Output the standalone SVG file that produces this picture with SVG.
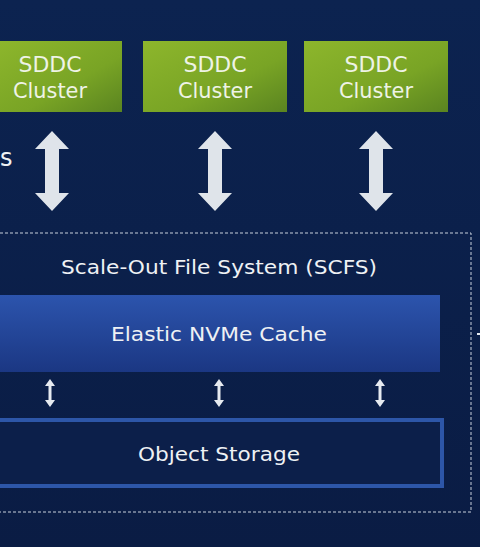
<svg xmlns="http://www.w3.org/2000/svg" width="480" height="547" viewBox="0 0 480 547">
<defs>
<linearGradient id="green" x1="0" y1="0" x2="1" y2="1">
<stop offset="0" stop-color="#8db62c"/>
<stop offset="0.6" stop-color="#79a425"/>
<stop offset="1" stop-color="#5a8420"/>
</linearGradient>
<linearGradient id="blue" x1="0" y1="0" x2="0" y2="1">
<stop offset="0" stop-color="#2c54ad"/>
<stop offset="1" stop-color="#1b3783"/>
</linearGradient>
<linearGradient id="bg" x1="0" y1="0" x2="0" y2="1">
<stop offset="0" stop-color="#0c2350"/>
<stop offset="1" stop-color="#0a1c44"/>
</linearGradient>
<path id="bigArrow" d="M0,-40 L17,-22 L7,-22 L7,22 L17,22 L0,40 L-17,22 L-7,22 L-7,-22 L-17,-22 Z" fill="#dfe4ea"/>
<path id="smallArrow" d="M0,-14 L5,-7 L1.5,-7 L1.5,7 L5,7 L0,14 L-5,7 L-1.5,7 L-1.5,-7 L-5,-7 Z" fill="#e6eaf0"/>
</defs>
<style>
text { font-family: "DejaVu Sans", "Liberation Sans", sans-serif; fill: #eef1f4; text-anchor: middle; }
.cl { font-size: 21px; fill: #eef3e6; }
.lbl { font-size: 20px; }
</style>
<rect width="480" height="547" fill="url(#bg)"/>
<text x="0" y="166" style="font-size:24px;text-anchor:start">s</text>

<g id="sddc1">
<rect x="-2" y="41" width="124" height="71" fill="url(#green)"/>
<text class="cl" x="50" y="72" textLength="63" lengthAdjust="spacingAndGlyphs">SDDC</text>
<text class="cl" x="50" y="98" textLength="74" lengthAdjust="spacingAndGlyphs">Cluster</text>
</g>
<g id="sddc2">
<rect x="143" y="41" width="144" height="71" fill="url(#green)"/>
<text class="cl" x="215" y="72" textLength="63" lengthAdjust="spacingAndGlyphs">SDDC</text>
<text class="cl" x="215" y="98" textLength="74" lengthAdjust="spacingAndGlyphs">Cluster</text>
</g>
<g id="sddc3">
<rect x="304" y="41" width="144" height="71" fill="url(#green)"/>
<text class="cl" x="376" y="72" textLength="63" lengthAdjust="spacingAndGlyphs">SDDC</text>
<text class="cl" x="376" y="98" textLength="74" lengthAdjust="spacingAndGlyphs">Cluster</text>
</g>

<g id="scfs">
<rect x="-5" y="233" width="476" height="279" fill="none" stroke="#c8d0dc" stroke-width="1" stroke-dasharray="3,2"/>
<text class="lbl" x="219" y="274" textLength="316" lengthAdjust="spacingAndGlyphs">Scale-Out File System (SCFS)</text>
</g>
<g id="cache">
<rect x="-2" y="295" width="442" height="77" fill="url(#blue)"/>
<text class="lbl" x="219" y="341" textLength="216" lengthAdjust="spacingAndGlyphs">Elastic NVMe Cache</text>
</g>
<g id="storage">
<rect x="-5" y="420" width="447" height="66" fill="#0c1f4a" stroke="#2d56a8" stroke-width="4"/>
<text class="lbl" x="219" y="461" textLength="162" lengthAdjust="spacingAndGlyphs">Object Storage</text>
</g>

<g id="connectors">
<use href="#bigArrow" x="52" y="171"/>
<use href="#bigArrow" x="215" y="171"/>
<use href="#bigArrow" x="376" y="171"/>
<use href="#smallArrow" x="50" y="393"/>
<use href="#smallArrow" x="219" y="393"/>
<use href="#smallArrow" x="380" y="393"/>
<line x1="477" y1="334" x2="480" y2="334" stroke="#e6eaf0" stroke-width="2"/>
</g>
</svg>
